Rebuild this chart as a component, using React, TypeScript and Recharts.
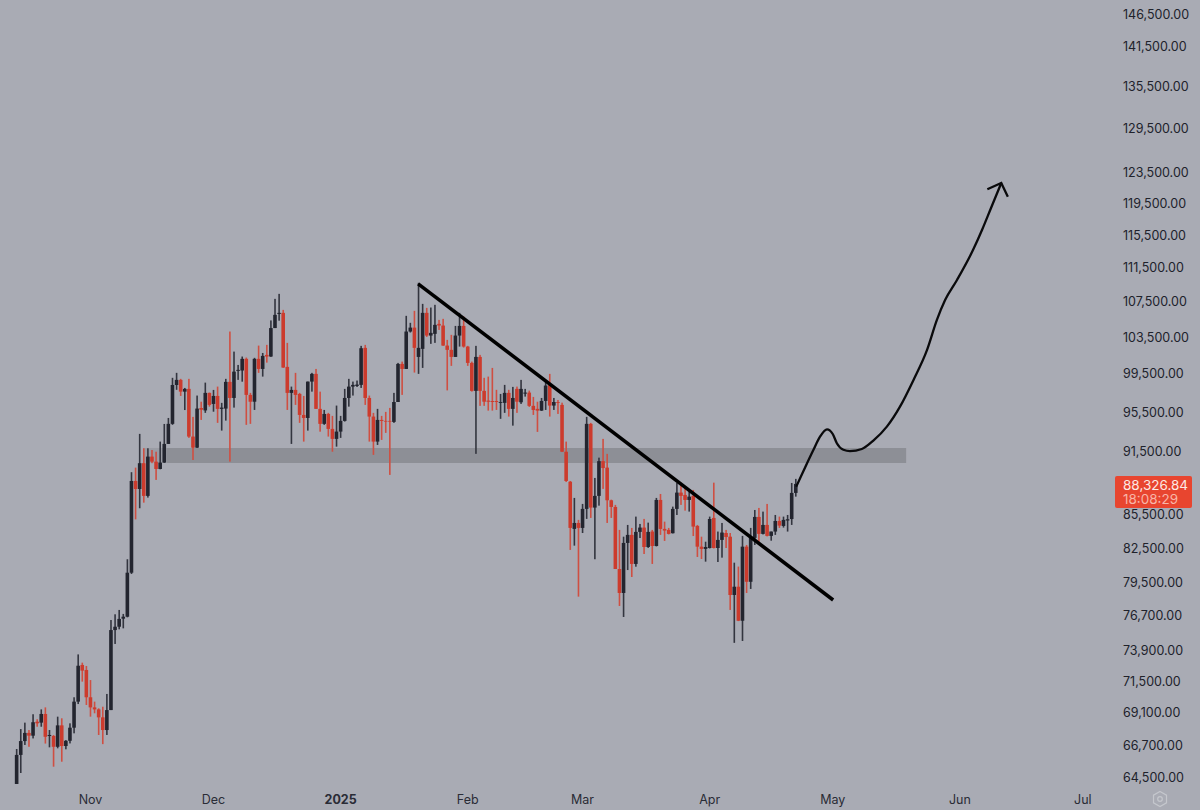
import { Bar, ComposedChart, Line, ReferenceArea, XAxis, YAxis } from 'recharts';

// daily candles, first one is Oct 14 2024
const opens = [
  63950, 65980, 66970, 67560, 67360, 68380, 68310, 68950, 67335, 67335, 66560, 68110, 66615, 66990, 67940, 69870, 72680, 72290, 70200, 69440,
  69290, 68700, 67770, 69240, 75460, 75730, 76390, 76550, 80260, 88580, 87820, 90290, 87170, 90930, 90440, 89730, 90350, 92180, 94190, 98210,
  98750, 97510, 97800, 92910, 91810, 95810, 95560, 97380, 96230, 97060, 95720, 95750, 98540, 96850, 99710, 99750, 101010, 97170, 96460, 101010,
  99920, 101440, 101260, 104410, 106010, 106130, 100140, 97380, 97690, 97270, 95100, 94790, 98570, 99390, 95720, 94190, 95200, 93680, 92680, 93410,
  94490, 96850, 98040, 98110, 98220, 102210, 96850, 94930, 92410, 94590, 94490, 94490, 94390, 96430, 100460, 99920, 104020, 104460, 101220, 102100,
  106130, 103570, 103760, 104880, 104690, 102460, 101990, 101220, 103570, 104650, 102350, 100570, 97590, 101220, 97590, 96570, 96530, 96530, 96340, 96340,
  97380, 95720, 97800, 96400, 97300, 97410, 96030, 95720, 95540, 96540, 98220, 96060, 96430, 96130, 91410, 88510, 84130, 84670, 84220, 85960,
  94190, 86080, 87170, 90490, 89860, 86760, 86140, 80580, 78530, 82870, 83590, 81020, 83860, 84250, 82510, 83890, 82600, 86790, 84130, 84040,
  83740, 85960, 87480, 87260, 86790, 87170, 84400, 82540, 82340, 82420, 85130, 82420, 83140, 83760, 83430, 78360, 79060, 76220, 82540, 79480,
  83320, 85220, 83680, 84490, 83500, 83890, 84850, 84400, 84890, 85030, 87450,
];
const highs = [
  66400, 67840, 68310, 67770, 68930, 68560, 69290, 69440, 67770, 67410, 68750, 68630, 67040, 68260, 70200, 73510, 72860, 72600, 71510, 69870,
  69370, 69490, 70450, 76280, 76750, 77110, 76780, 81430, 89420, 89860, 93180, 91750, 91750, 91580, 91410, 92410, 94180, 94790, 98970, 99500,
  98860, 97900, 98860, 94900, 97100, 96460, 98460, 97410, 97690, 98040, 96340, 98860, 104020, 101800, 100350, 101260, 101150, 97380, 101120, 102460,
  101650, 102540, 105270, 107740, 108320, 106470, 102760, 98040, 99500, 97380, 97060, 98570, 99500, 99920, 97510, 95610, 95310, 95000, 96060, 95000,
  97800, 98860, 98570, 98680, 102430, 102540, 97100, 95310, 95720, 95000, 95410, 95820, 97380, 100570, 100710, 105790, 105000, 106360, 109620, 107160,
  106700, 106740, 107050, 105330, 105450, 103090, 103650, 104650, 106130, 105710, 102430, 100710, 102430, 101440, 98970, 99100, 100030, 97700, 97270, 98220,
  97700, 98010, 98040, 98750, 97800, 97620, 96960, 96460, 96850, 98570, 99390, 96850, 96640, 96360, 92410, 88580, 86980, 84950, 86420, 94900,
  94290, 88870, 90830, 92680, 91200, 86820, 86330, 84040, 83430, 84490, 84220, 85250, 84580, 85040, 84700, 84040, 86980, 87350, 84790, 84220,
  86170, 88390, 88420, 88040, 87570, 87730, 84490, 83430, 82980, 85250, 88420, 83890, 84670, 84040, 83760, 81130, 80790, 83500, 82690, 84220,
  85860, 86050, 85710, 86420, 83890, 85400, 85250, 85250, 85400, 88390, 88780,
];
const lows = [
  63950, 64710, 66690, 66560, 67160, 68010, 68010, 66790, 66520, 65150, 66450, 65500, 66380, 66800, 67530, 69690, 71390, 69620, 68750, 69000,
  67410, 66750, 67410, 69240, 74340, 75520, 75600, 76500, 80150, 85000, 86020, 86540, 87010, 90290, 88680, 89700, 90320, 92180, 94090, 97700,
  97060, 95600, 92780, 90600, 91780, 94590, 95310, 95950, 95430, 94290, 93510, 94520, 90440, 95850, 98750, 98560, 94090, 94190, 95610, 99500,
  99100, 100600, 101220, 104410, 105240, 100030, 95610, 92180, 96130, 94290, 92410, 93510, 97510, 95720, 93400, 94090, 92910, 91410, 91910, 92780,
  94420, 95950, 97100, 98000, 97900, 96130, 92410, 91100, 92080, 92580, 93280, 89160, 94290, 96430, 97170, 99920, 103910, 99530, 99390, 100030,
  103420, 102650, 102760, 104200, 102430, 97640, 100250, 101220, 102350, 102240, 100250, 97510, 91200, 96030, 96030, 95540, 95540, 95610, 94700, 95310,
  94930, 94010, 95310, 96230, 96990, 95920, 95100, 93380, 95510, 95610, 94930, 95610, 95200, 91380, 88480, 82250, 82630, 78220, 83760, 85040,
  85130, 81430, 86260, 87830, 84670, 85130, 80580, 77440, 76530, 80490, 79890, 80780, 83310, 81890, 82430, 81020, 82560, 83590, 83050, 83630,
  83720, 85400, 86330, 85800, 85710, 83490, 81630, 81450, 81220, 82380, 82380, 81190, 81570, 82420, 77110, 74430, 76190, 74580, 78530, 78870,
  82690, 82980, 83630, 83450, 83070, 83590, 84220, 84250, 83890, 84490, 87100,
];
const closes = [
  65980, 66970, 67560, 67360, 68340, 68260, 68950, 67280, 67410, 66560, 68110, 66615, 66990, 67940, 69870, 72620, 72240, 70200, 69440, 69290,
  68700, 67770, 69240, 75460, 75730, 76370, 76550, 80260, 88580, 87820, 90290, 87170, 90930, 90440, 89730, 90350, 92180, 94190, 98210, 98750,
  97510, 97800, 92910, 91810, 95750, 95630, 97380, 96130, 97060, 95720, 95850, 98540, 96850, 99630, 99820, 101010, 97170, 96460, 101010, 99920,
  101330, 101260, 104410, 105900, 106130, 100070, 97380, 97690, 97170, 95100, 94790, 98570, 99390, 95720, 94190, 95200, 93680, 92680, 93410, 94490,
  96850, 98040, 98220, 98250, 102170, 96850, 94930, 92410, 94590, 94490, 94420, 94420, 96430, 100460, 99920, 104020, 104460, 102210, 102210, 106130,
  103570, 103870, 104770, 104690, 102460, 101990, 101220, 103570, 104650, 102350, 100570, 97590, 101220, 97590, 96460, 96460, 96430, 96430, 96430, 97380,
  95720, 96850, 96460, 97800, 97410, 96030, 95610, 95540, 96540, 98150, 96060, 96430, 96340, 91410, 88580, 84220, 84670, 84220, 85960, 94190,
  86080, 87170, 90490, 89820, 86760, 86140, 80580, 78530, 82870, 83590, 81020, 83860, 84250, 82510, 83860, 82600, 86790, 84130, 83980, 83680,
  85960, 87480, 87170, 86790, 87100, 84340, 82540, 82340, 82510, 85030, 82420, 83140, 83800, 83400, 78360, 79060, 76220, 82540, 79480, 83430,
  85220, 83680, 84490, 83500, 83890, 84850, 84430, 84950, 85010, 87450, 88300,
];

const yTicks = [
  64500, 66700, 69100, 71500, 73900, 76700, 79500, 82500, 85500, 91500, 95500, 99500, 103500, 107500, 111500, 115500, 119500, 123500, 129500, 135500,
  141500, 146500,
];
const xTickDays = [18, 48, 79, 110, 138, 169, 199, 230, 260];
const xTickLabels = ['Nov', 'Dec', '2025', 'Feb', 'Mar', 'Apr', 'May', 'Jun', 'Jul'];

// hand drawn stuff
const trendDays = [97.9, 199.1];
const trendPrices = [109500, 77940];
const curveDays = [190.1, 191.8, 194.3, 195.9, 197.6, 199, 200, 201.6, 203.2, 206.1, 208.9, 212.2, 215.4, 218.7, 222, 224.4, 226.4, 229.3, 233.2, 235.4, 237.6, 240.1];
const curvePrices = [88040, 89480, 91600, 92900, 93640, 93170, 92250, 91600, 91470, 91680, 92510, 93910, 95950, 98750, 101990, 105330, 107600, 109950, 113540, 116020, 118800, 122040];
const arrowDays = [236.7, 240.1, 241.7];
const arrowPrices = [121210, 122040, 120250];

const zoneLow = 90320;
const zoneHigh = 91780;
const zoneFadeStart = 30.8;
const zoneStart = 36.6;
const zoneEnd = 216.9;

const lastPrice = '88,326.84';
const countdown = '18:08:29';

const FONT = 'Inter, "Open Sans", sans-serif';

const candles = opens.map((open, day) => ({
  day,
  up: closes[day] >= open,
  wick: [lows[day], highs[day]],
  body: [Math.min(open, closes[day]), Math.max(open, closes[day])],
}));

const toPoints = (days: number[], prices: number[]) => days.map((day, i) => ({ day, price: prices[i] }));

// recharts rounds the thin bar sizes, so keep the bar's y and height and set the width here
function WickShape({ x, y, width, height, payload }: any) {
  return <rect x={x + width / 2 - 0.8} y={y} width={1.6} height={height} fill={payload.up ? '#33353f' : '#cf4f42'} />;
}

function BodyShape({ x, y, width, height, payload }: any) {
  return <rect x={x + width / 2 - 1.8} y={y} width={3.6} height={height} fill={payload.up ? '#23252f' : '#cc3b2d'} />;
}

function MonthTick({ x, y, payload }: any) {
  const label = xTickLabels[xTickDays.indexOf(payload.value)];
  return (
    <text x={x} y={y + 11} textAnchor="middle" fontFamily={FONT} fontSize={12.5} fontWeight={label === '2025' ? 700 : 400} fill="#2a2c36">
      {label}
    </text>
  );
}

function PriceTick({ x, y, payload }: any) {
  return (
    <text x={x} y={y + 5.5} fontFamily={FONT} fontSize={12.5} fill="#20222b">
      {payload.value.toLocaleString('en-US', { minimumFractionDigits: 2 })}
    </text>
  );
}

export default function App() {
  return (
    <div style={{ position: 'absolute', left: 0, top: 0, width: 1200, height: 810, background: '#a9abb4', overflow: 'hidden' }}>
      <ComposedChart width={1200} height={810} data={candles} margin={{ top: 0, right: 0, bottom: 0, left: 0 }}>
        <XAxis
          xAxisId="wick"
          dataKey="day"
          type="number"
          domain={[-4.07, 267.1]}
          allowDataOverflow
          ticks={xTickDays}
          interval={0}
          height={25}
          tick={<MonthTick />}
          tickLine={false}
          axisLine={false}
        />
        <XAxis xAxisId="body" dataKey="day" type="number" domain={[-4.07, 267.1]} allowDataOverflow height={0} hide />
        <YAxis
          orientation="right"
          width={88}
          scale="log"
          domain={[63880, 148570]}
          allowDataOverflow
          ticks={yTicks}
          interval={0}
          tickLine={false}
          axisLine={false}
          tickSize={0}
          tickMargin={11}
          tick={<PriceTick />}
        />
        <ReferenceArea xAxisId="wick" x1={zoneFadeStart} x2={zoneStart} y1={zoneLow} y2={zoneHigh} fill="#9a9ca4" fillOpacity={1} stroke="none" />
        <ReferenceArea xAxisId="wick" x1={zoneStart} x2={zoneEnd} y1={zoneLow} y2={zoneHigh} fill="#8d8f96" fillOpacity={1} stroke="none" />
        <Bar xAxisId="wick" dataKey="wick" barSize={2} shape={<WickShape />} isAnimationActive={false} />
        <Bar xAxisId="body" dataKey="body" barSize={4} shape={<BodyShape />} isAnimationActive={false} />
        <Line xAxisId="wick" data={toPoints(trendDays, trendPrices)} dataKey="price" type="linear" stroke="#000" strokeWidth={3.5} dot={false} activeDot={false} isAnimationActive={false} />
        <Line xAxisId="wick" data={toPoints(curveDays, curvePrices)} dataKey="price" type="monotone" stroke="#0a0a0c" strokeWidth={2.3} dot={false} activeDot={false} isAnimationActive={false} />
        <Line xAxisId="wick" data={toPoints(arrowDays, arrowPrices)} dataKey="price" type="linear" stroke="#0a0a0c" strokeWidth={2.3} dot={false} activeDot={false} isAnimationActive={false} />
      </ComposedChart>

      <div
        style={{
          position: 'absolute',
          left: 1115,
          top: 476,
          width: 77,
          height: 32,
          background: '#e8452f',
          borderRadius: 2,
          fontFamily: FONT,
          fontSize: 13.5,
          lineHeight: '14px',
          paddingLeft: 8,
          paddingTop: 2,
          boxSizing: 'border-box',
        }}
      >
        <div style={{ color: '#fde9e4' }}>{lastPrice}</div>
        <div style={{ color: '#f8b6a8' }}>{countdown}</div>
      </div>

      <svg style={{ position: 'absolute', left: 1151, top: 790 }} width={18} height={18} viewBox="0 0 18 18">
        <polygon points="9,1.5 15.5,5.2 15.5,12.8 9,16.5 2.5,12.8 2.5,5.2" fill="none" stroke="#c5c7cd" strokeWidth={1.2} />
        <circle cx={9} cy={9} r={2.3} fill="none" stroke="#c5c7cd" strokeWidth={1.2} />
      </svg>
    </div>
  );
}
